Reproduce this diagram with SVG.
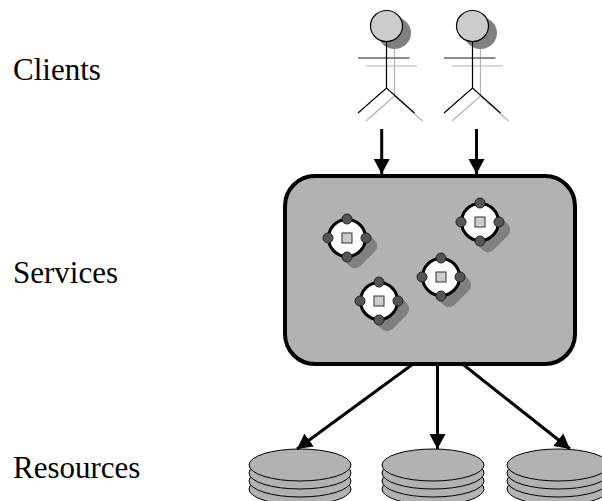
<svg xmlns="http://www.w3.org/2000/svg" width="602" height="501" viewBox="0 0 602 501">
<defs>
<marker id="ah" markerUnits="userSpaceOnUse" markerWidth="17" markerHeight="18" refX="15" refY="9" orient="auto"><path d="M0 1L15 9L0 17Z" fill="#000"/></marker>
<g id="actor">
<ellipse cx="8" cy="7" rx="16.500" ry="16" fill="#808080"/>
<path d="M8 23V70M-20.500 40H30.500M8 70L-20.500 95M8 70L36 95" fill="none" stroke="#b2b2b2" stroke-width="1.200"/>
<ellipse cx="0" cy="0" rx="16" ry="15.500" fill="#ccc" stroke="#000" stroke-width="1.200"/>
<path d="M-28.500 32H23" stroke="#666" stroke-width="1.400" fill="none"/>
<path d="M0 15.500V62M-28.500 87L0 62L28 87" stroke="#000" stroke-width="1.200" fill="none"/>
</g>
<g id="svc">
<rect x="-18" y="-18" width="36" height="36" rx="8" transform="translate(8,8) rotate(45)" fill="#808080"/>
<circle r="18.500" fill="#fff" stroke="#000" stroke-width="3"/>
<rect x="-5" y="-5" width="10" height="10" fill="#ccc" stroke="#333" stroke-width="1"/>
<g fill="#555" stroke="#222" stroke-width="1"><circle cy="-19" r="5"/><circle cy="19" r="5"/><circle cx="-19" r="5"/><circle cx="19" r="5"/></g>
</g>
<g id="disk" fill="#b2b2b2" stroke="#000" stroke-width="1">
<ellipse cy="24" rx="51" ry="16"/><ellipse cy="16" rx="51" ry="16"/><ellipse cy="8" rx="51" ry="16"/><ellipse cy="0" rx="51" ry="16"/>
</g>
<style>text{font-family:"Liberation Serif","Times New Roman",serif;font-size:31px;fill:#000}.c{fill:none;stroke:#000;stroke-width:3;marker-end:url(#ah)}</style>
</defs>
<text x="13" y="80">Clients</text>
<text x="13" y="283">Services</text>
<text x="13" y="478">Resources</text>
<g id="client1"><use href="#actor" x="386.500" y="26"/></g>
<g id="client2"><use href="#actor" x="472.500" y="26"/></g>
<g id="services"><rect x="285" y="176" width="290" height="188" rx="30" fill="#b2b2b2" stroke="#000" stroke-width="4"/></g>
<g id="svc1"><use href="#svc" x="347" y="238"/></g>
<g id="svc2"><use href="#svc" x="480" y="222"/></g>
<g id="svc3"><use href="#svc" x="379" y="301"/></g>
<g id="svc4"><use href="#svc" x="441" y="277"/></g>
<g id="res1"><use href="#disk" x="300" y="465"/></g>
<g id="res2"><use href="#disk" x="433" y="465"/></g>
<g id="res3"><use href="#disk" x="558" y="465"/></g>
<g id="connectors">
<path class="c" d="M381.700 129V174"/>
<path class="c" d="M476.500 129V174"/>
<path class="c" d="M413 364L297 449"/>
<path class="c" d="M437.500 364V449"/>
<path class="c" d="M462.500 364L570 449"/>
</g>
</svg>
